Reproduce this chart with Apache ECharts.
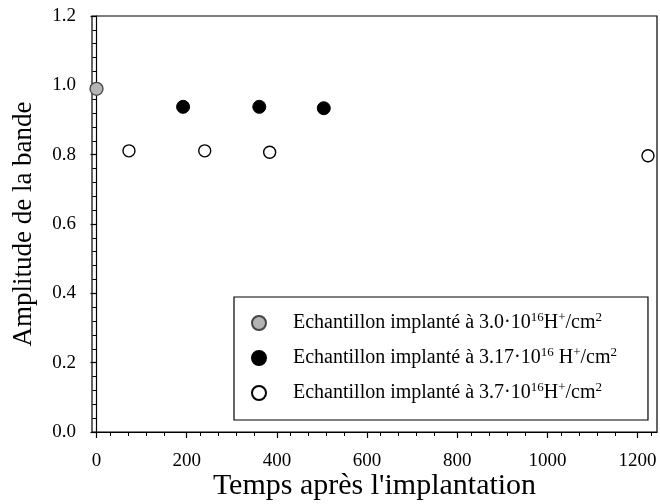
<!DOCTYPE html>
<html>
<head>
<meta charset="utf-8">
<script src="https://cdn.jsdelivr.net/npm/echarts@6/dist/echarts.min.js"></script>
<style>
html,body{margin:0;padding:0;background:#fff;}
#chart{width:660px;height:504px;}
</style>
</head>
<body>
<div id="chart"></div>
<script>
// Data
const seriesNames = [
  'Echantillon implanté à 3.0·10{sup|16}H{sup|+}/cm{sup|2}',
  'Echantillon implanté à 3.17·10{sup|16} H{sup|+}/cm{sup|2}',
  'Echantillon implanté à 3.7·10{sup|16}H{sup|+}/cm{sup|2}'
];
const s1x = [0];
const s1y = [0.99];
const s2x = [192, 361, 504];
const s2y = [0.938, 0.938, 0.934];
const s3x = [72, 240, 384, 1223];
const s3y = [0.811, 0.811, 0.807, 0.797];
const xTicks = [0, 200, 400, 600, 800, 1000, 1200];
const yTicks = [0.0, 0.2, 0.4, 0.6, 0.8, 1.0, 1.2];

const zip = (xs, ys) => xs.map((x, i) => [x, ys[i]]);
const font = '"Liberation Serif", "DejaVu Serif", serif';

const chart = echarts.init(document.getElementById('chart'), null, {renderer: 'canvas'});
const keys = ['a', 'b', 'c'];
chart.setOption({
  backgroundColor: '#fff',
  animation: false,
  grid: {left: 92, top: 16, right: 3, bottom: 72, show: true, borderColor: '#000', borderWidth: 1.2,
    containLabel: false, outerBoundsMode: 'none'},
  xAxis: {
    type: 'value', min: -10, max: 1243, interval: 200,
    name: 'Temps après l\'implantation', nameLocation: 'middle', nameGap: 39, nameMoveOverlap: false,
    nameTextStyle: {fontFamily: font, fontSize: 30, color: '#000'},
    axisLine: {show: true, lineStyle: {color: '#000', width: 1.2}},
    axisTick: {show: true, length: 6, lineStyle: {color: '#000', width: 1.2}, customValues: xTicks},
    minorTick: {show: true, splitNumber: 5, length: 4, lineStyle: {color: '#000', width: 1}},
    axisLabel: {fontFamily: font, fontSize: 19, color: '#000', margin: 20, customValues: xTicks,
      formatter: v => String(v)},
    splitLine: {show: false}, minorSplitLine: {show: false}
  },
  yAxis: {
    type: 'value', min: 0, max: 1.2, interval: 0.2,
    name: 'Amplitude de la bande', nameLocation: 'middle', nameGap: 55, nameRotate: 90, nameMoveOverlap: false,
    nameTextStyle: {fontFamily: font, fontSize: 27, color: '#000'},
    axisLine: {show: true, lineStyle: {color: '#000', width: 1.2}},
    axisTick: {show: true, length: 6, lineStyle: {color: '#000', width: 1.2}},
    minorTick: {show: true, splitNumber: 5, length: 4, lineStyle: {color: '#000', width: 1}},
    axisLabel: {fontFamily: font, fontSize: 19, color: '#000', margin: 16,
      formatter: v => v.toFixed(1)},
    splitLine: {show: false}, minorSplitLine: {show: false}
  },
  legend: {
    orient: 'vertical', left: 234, top: 297,
    padding: [14, 31, 17, 17],
    itemWidth: 14, itemHeight: 14, itemGap: 13,
    borderColor: '#000', borderWidth: 1.2, backgroundColor: '#fff',
    data: keys,
    formatter: name => seriesNames[keys.indexOf(name)],
    textStyle: {
      fontFamily: font, fontSize: 20, color: '#000', padding: [0, 0, 0, 22],
      rich: {sup: {fontFamily: font, fontSize: 13, color: '#000', padding: [0, 0, 11, 0]}}
    }
  },
  series: [
    {name: 'a', type: 'scatter', data: zip(s1x, s1y), symbol: 'circle', symbolSize: 13,
      itemStyle: {color: '#b4b4b4', borderColor: '#444', borderWidth: 1.3, opacity: 1}},
    {name: 'b', type: 'scatter', data: zip(s2x, s2y), symbol: 'circle', symbolSize: 13,
      itemStyle: {color: '#000', borderColor: '#000', borderWidth: 1, opacity: 1}},
    {name: 'c', type: 'scatter', data: zip(s3x, s3y), symbol: 'circle', symbolSize: 12,
      itemStyle: {color: '#fff', borderColor: '#000', borderWidth: 1.4, opacity: 1}}
  ]
});
</script>
</body>
</html>
